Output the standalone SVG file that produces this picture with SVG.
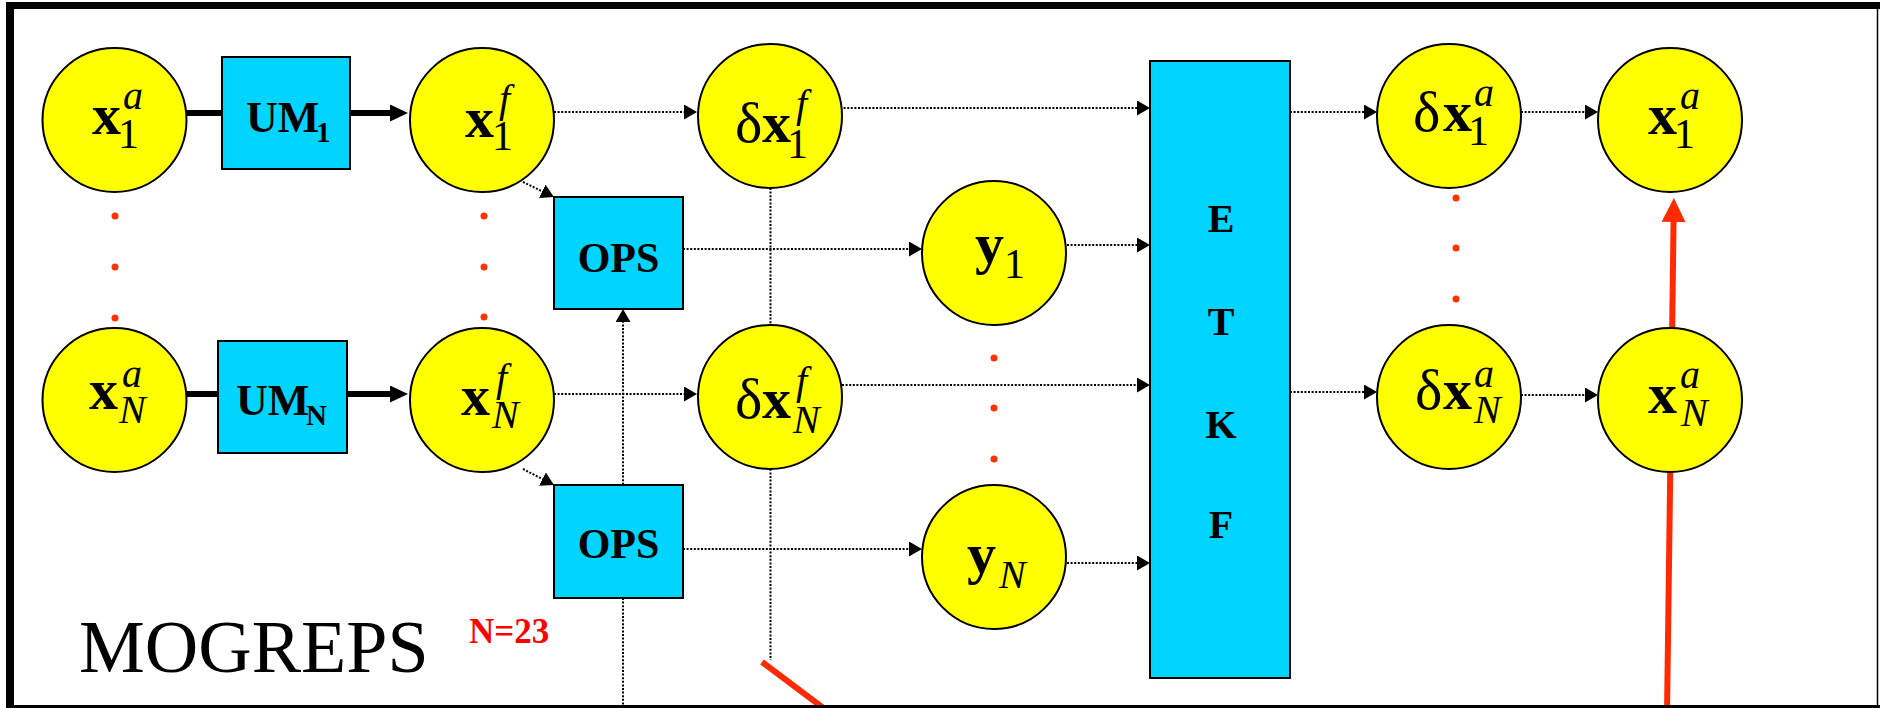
<svg xmlns="http://www.w3.org/2000/svg" width="1880" height="708" viewBox="0 0 1880 708">
  <defs>
    <style>
      .ell{fill:#ffff00;stroke:#000;stroke-width:2}
      .box{fill:#00d4ff;stroke:#000;stroke-width:2}
      .dot{fill:#ff3300}
      .dl{fill:none;stroke:#000;stroke-width:2;stroke-dasharray:2 1.6}
      .tk{fill:none;stroke:#000;stroke-width:6}
      .red{fill:none;stroke:#ff2a00;stroke-width:6}
      .frame{fill:none;stroke:#000}
      text{font-family:"Liberation Serif","Times New Roman",serif;fill:#000}
      .b{font-weight:bold;font-size:58px}
      .g{font-size:58px}
      .s{font-style:italic;font-size:40px}
      .n{font-size:42px}
      .lbl{font-weight:bold;font-size:44px}
      .lsub{font-weight:bold;font-size:29px}
      .ops{font-weight:bold;font-size:42px;text-anchor:middle}
      .etkf{font-weight:bold;font-size:40px;text-anchor:middle}
    </style>
    <!-- small head for dotted flow lines, base sits on the line end -->
    <marker id="ah" markerUnits="userSpaceOnUse" markerWidth="13" markerHeight="15" refX="2" refY="7.5" orient="auto">
      <path d="M0,0 L13,7.5 L0,15 z" fill="#000"/>
    </marker>
    <!-- heavy head for model integration arrows -->
    <marker id="ahT" markerUnits="userSpaceOnUse" markerWidth="18" markerHeight="17" refX="2" refY="8.5" orient="auto">
      <path d="M0,0 L18,8.5 L0,17 z" fill="#000"/>
    </marker>
    <marker id="ahR" markerUnits="userSpaceOnUse" markerWidth="24" markerHeight="24" refX="3" refY="12" orient="auto">
      <path d="M0,0 L24,12 L0,24 z" fill="#ff2a00"/>
    </marker>
  </defs>

  <rect width="1880" height="708" fill="#fff"/>

  <g id="connectors">
    <!-- model runs -->
    <line class="tk" x1="187" y1="113" x2="222" y2="113"/>
    <line class="tk" x1="350" y1="113" x2="392" y2="113" marker-end="url(#ahT)"/>
    <line class="tk" x1="187" y1="394" x2="218" y2="394"/>
    <line class="tk" x1="347" y1="394" x2="392" y2="394" marker-end="url(#ahT)"/>
    <!-- forecasts to perturbations and observation operators -->
    <line class="dl" x1="554" y1="112" x2="686" y2="112" marker-end="url(#ah)"/>
    <line class="dl" x1="523" y1="182" x2="544" y2="192.2" marker-end="url(#ah)"/>
    <line class="dl" x1="554" y1="394" x2="686" y2="394" marker-end="url(#ah)"/>
    <line class="dl" x1="523" y1="469" x2="544.2" y2="480" marker-end="url(#ah)"/>
    <line class="dl" x1="683" y1="249" x2="911" y2="249" marker-end="url(#ah)"/>
    <line class="dl" x1="683" y1="549" x2="911" y2="549" marker-end="url(#ah)"/>
    <line class="dl" x1="623" y1="708" x2="623" y2="320" marker-end="url(#ah)"/>
    <line class="dl" x1="770.5" y1="188" x2="770.5" y2="660"/>
    <!-- into the transform -->
    <line class="dl" x1="840" y1="108" x2="1139" y2="108" marker-end="url(#ah)"/>
    <line class="dl" x1="842" y1="385" x2="1139" y2="385" marker-end="url(#ah)"/>
    <line class="dl" x1="1067" y1="245" x2="1139" y2="245" marker-end="url(#ah)"/>
    <line class="dl" x1="1067" y1="563" x2="1139" y2="563" marker-end="url(#ah)"/>
    <!-- analysis perturbations -->
    <line class="dl" x1="1290" y1="112" x2="1366" y2="112" marker-end="url(#ah)"/>
    <line class="dl" x1="1290" y1="392" x2="1366" y2="392" marker-end="url(#ah)"/>
    <line class="dl" x1="1521" y1="112" x2="1587" y2="112" marker-end="url(#ah)"/>
    <line class="dl" x1="1521" y1="395" x2="1587" y2="395" marker-end="url(#ah)"/>
    <!-- highlighted strokes -->
    <line class="red" x1="762" y1="662" x2="834" y2="716"/>
    <line class="red" x1="1667" y1="714" x2="1673.6" y2="219" marker-end="url(#ahR)"/>
  </g>

  <g id="dots">
    <circle class="dot" cx="115" cy="216" r="3.5"/>
    <circle class="dot" cx="115" cy="267" r="3.5"/>
    <circle class="dot" cx="115" cy="318" r="3.5"/>
    <circle class="dot" cx="484" cy="216" r="3.5"/>
    <circle class="dot" cx="484" cy="267" r="3.5"/>
    <circle class="dot" cx="484" cy="317" r="3.5"/>
    <circle class="dot" cx="994" cy="358" r="3.5"/>
    <circle class="dot" cx="994" cy="408" r="3.5"/>
    <circle class="dot" cx="994" cy="459" r="3.5"/>
    <circle class="dot" cx="1456" cy="198" r="3.5"/>
    <circle class="dot" cx="1456" cy="248" r="3.5"/>
    <circle class="dot" cx="1456" cy="299" r="3.5"/>
  </g>

  <g id="xa1">
    <circle class="ell" cx="114.5" cy="120" r="72"/>
    <text><tspan class="b" x="92" y="134">x</tspan><tspan class="s" x="123" y="109">a</tspan><tspan class="n" x="118" y="148">1</tspan></text>
  </g>
  <g id="um1">
    <rect class="box" x="222" y="57" width="128" height="112"/>
    <text><tspan class="lbl" x="246" y="132">UM</tspan><tspan class="lsub" x="316" y="142">1</tspan></text>
  </g>
  <g id="xf1">
    <circle class="ell" cx="482" cy="120" r="72"/>
    <text><tspan class="b" x="465" y="137">x</tspan><tspan class="s" x="499" y="112">f</tspan><tspan class="n" x="492" y="150">1</tspan></text>
  </g>
  <g id="xaN">
    <circle class="ell" cx="114.5" cy="400" r="72"/>
    <text><tspan class="b" x="89" y="409">x</tspan><tspan class="s" x="122" y="387">a</tspan><tspan class="s" x="119" y="423">N</tspan></text>
  </g>
  <g id="umN">
    <rect class="box" x="218" y="341" width="129" height="112"/>
    <text><tspan class="lbl" x="236" y="415">UM</tspan><tspan class="lsub" x="306" y="425">N</tspan></text>
  </g>
  <g id="xfN">
    <circle class="ell" cx="482" cy="400" r="72"/>
    <text><tspan class="b" x="461" y="415">x</tspan><tspan class="s" x="496" y="391">f</tspan><tspan class="s" x="492" y="428">N</tspan></text>
  </g>
  <g id="ops1">
    <rect class="box" x="554" y="197" width="129" height="112"/>
    <text class="ops" x="618.5" y="272">OPS</text>
  </g>
  <g id="opsN">
    <rect class="box" x="554" y="485" width="129" height="113"/>
    <text class="ops" x="618.5" y="558">OPS</text>
  </g>
  <g id="dxf1">
    <circle class="ell" cx="770" cy="116" r="72"/>
    <text><tspan class="g" x="735" y="142">δ</tspan><tspan class="b" x="762" y="142">x</tspan><tspan class="s" x="796" y="117">f</tspan><tspan class="n" x="787" y="158">1</tspan></text>
  </g>
  <g id="dxfN">
    <circle class="ell" cx="770" cy="397" r="72"/>
    <text><tspan class="g" x="735" y="418">δ</tspan><tspan class="b" x="762" y="418">x</tspan><tspan class="s" x="796" y="394">f</tspan><tspan class="s" x="793" y="433">N</tspan></text>
  </g>
  <g id="y1">
    <circle class="ell" cx="994" cy="253" r="72"/>
    <text><tspan class="b" x="975" y="263">y</tspan><tspan class="n" x="1004" y="278">1</tspan></text>
  </g>
  <g id="yN">
    <circle class="ell" cx="994" cy="557" r="72"/>
    <text><tspan class="b" x="967" y="573">y</tspan><tspan class="s" x="999" y="588">N</tspan></text>
  </g>
  <g id="etkf">
    <rect class="box" x="1150" y="61" width="140" height="617"/>
    <text class="etkf" x="1221" y="232">E</text>
    <text class="etkf" x="1221" y="335">T</text>
    <text class="etkf" x="1221" y="438">K</text>
    <text class="etkf" x="1221" y="538">F</text>
  </g>
  <g id="dxa1">
    <circle class="ell" cx="1449" cy="116" r="72"/>
    <text><tspan class="g" x="1413" y="131">δ</tspan><tspan class="b" x="1443" y="131">x</tspan><tspan class="s" x="1474" y="106">a</tspan><tspan class="n" x="1468" y="145">1</tspan></text>
  </g>
  <g id="dxaN">
    <circle class="ell" cx="1449" cy="397" r="72"/>
    <text><tspan class="g" x="1415" y="409">δ</tspan><tspan class="b" x="1443" y="409">x</tspan><tspan class="s" x="1474" y="387">a</tspan><tspan class="s" x="1474" y="423">N</tspan></text>
  </g>
  <g id="xa1-new">
    <circle class="ell" cx="1670" cy="120" r="72"/>
    <text><tspan class="b" x="1648" y="134">x</tspan><tspan class="s" x="1680" y="109">a</tspan><tspan class="n" x="1674" y="148">1</tspan></text>
  </g>
  <g id="xaN-new">
    <circle class="ell" cx="1670" cy="400" r="72"/>
    <text><tspan class="b" x="1648" y="413">x</tspan><tspan class="s" x="1680" y="388">a</tspan><tspan class="s" x="1681" y="426">N</tspan></text>
  </g>

  <g id="titles">
    <text x="79" y="672" font-size="74">MOGREPS</text>
    <text x="469" y="643" font-size="35" font-weight="bold" style="fill:#ff0000">N=23</text>
  </g>

  <g id="frame">
    <line class="frame" x1="6" y1="5.5" x2="1880" y2="5.5" stroke-width="7"/>
    <line class="frame" x1="10" y1="2" x2="10" y2="708" stroke-width="8"/>
    <line class="frame" x1="6" y1="706.5" x2="1880" y2="706.5" stroke-width="3"/>
    <line class="frame" x1="1877.5" y1="2" x2="1877.5" y2="708" stroke-width="1.5"/>
  </g>
</svg>
